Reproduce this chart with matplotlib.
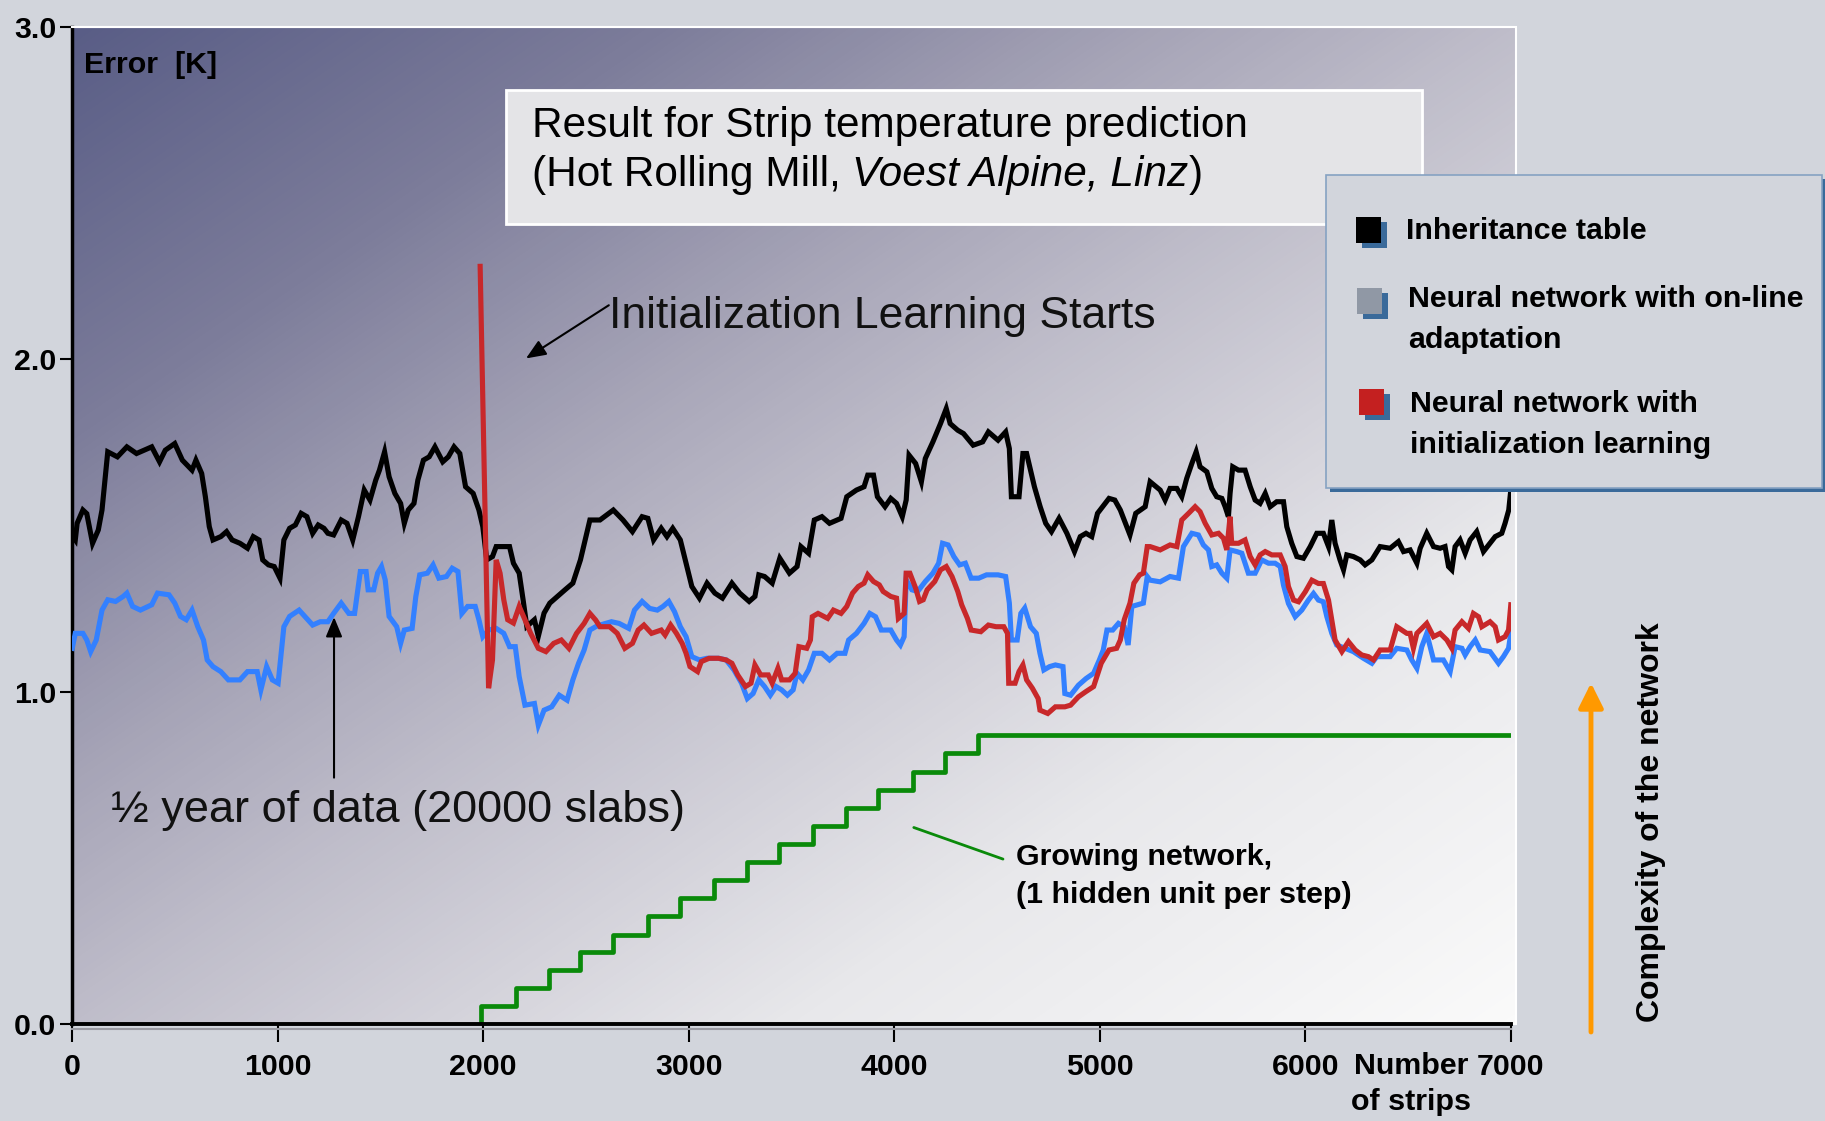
import numpy as np
import matplotlib
matplotlib.use("Agg")
import matplotlib.pyplot as plt
from matplotlib import font_manager
from matplotlib.colors import LinearSegmentedColormap
from matplotlib.patches import Rectangle
from matplotlib.lines import Line2D

# ---- data: (number of strips, error [K]) ----
inheritance = [
    (0, 1.47), (15, 1.457), (24, 1.507), (52, 1.547), (71, 1.536), (99, 1.447), (127, 1.487),
    (145, 1.547), (173, 1.722), (220, 1.707), (266, 1.737), (313, 1.717), (387, 1.737),
    (425, 1.692), (453, 1.727), (499, 1.747), (536, 1.697), (583, 1.667), (602, 1.697),
    (630, 1.657), (648, 1.587), (667, 1.497), (685, 1.457), (723, 1.467), (751, 1.482),
    (778, 1.457), (816, 1.447), (853, 1.432), (881, 1.467), (909, 1.457), (927, 1.397),
    (955, 1.382), (983, 1.377), (1011, 1.342), (1030, 1.457), (1058, 1.492), (1086, 1.502),
    (1114, 1.537), (1142, 1.527), (1170, 1.477), (1197, 1.502), (1225, 1.492), (1244, 1.477),
    (1272, 1.472), (1309, 1.517), (1337, 1.507), (1365, 1.457), (1393, 1.527), (1421, 1.607),
    (1449, 1.577), (1477, 1.637), (1495, 1.667), (1520, 1.722), (1542, 1.647), (1570, 1.597),
    (1598, 1.567), (1616, 1.507), (1635, 1.547), (1663, 1.567), (1682, 1.637), (1709, 1.697),
    (1737, 1.707), (1765, 1.737), (1803, 1.692), (1830, 1.707), (1858, 1.737), (1886, 1.717),
    (1914, 1.617), (1951, 1.597), (1979, 1.547), (1998, 1.497), (2017, 1.397), (2045, 1.407),
    (2063, 1.437), (2128, 1.437), (2147, 1.387), (2175, 1.357), (2194, 1.277), (2212, 1.197),
    (2249, 1.217), (2268, 1.167), (2296, 1.237), (2324, 1.267), (2361, 1.287), (2398, 1.307),
    (2436, 1.327), (2473, 1.397), (2519, 1.517),
    (2568, 1.517), (2633, 1.547), (2680, 1.517), (2726, 1.482), (2773, 1.527), (2801, 1.522),
    (2829, 1.457), (2866, 1.492), (2894, 1.467), (2922, 1.492), (2959, 1.457), (2987, 1.387),
    (3015, 1.317), (3052, 1.282), (3089, 1.327), (3127, 1.297), (3164, 1.282), (3210, 1.327),
    (3248, 1.297), (3294, 1.272), (3322, 1.287), (3341, 1.352), (3369, 1.347), (3406, 1.327),
    (3443, 1.402), (3490, 1.357), (3527, 1.377), (3546, 1.437), (3583, 1.417), (3611, 1.517),
    (3648, 1.527), (3685, 1.507), (3741, 1.522), (3769, 1.587), (3816, 1.607), (3853, 1.617),
    (3871, 1.652), (3899, 1.652), (3918, 1.587), (3955, 1.557), (3983, 1.582), (4011, 1.567),
    (4039, 1.527), (4058, 1.577), (4072, 1.712), (4104, 1.687), (4132, 1.632), (4151, 1.702),
    (4188, 1.752), (4225, 1.807), (4253, 1.852), (4272, 1.807), (4309, 1.787), (4337, 1.777),
    (4384, 1.742), (4430, 1.752), (4458, 1.782), (4505, 1.757), (4542, 1.782), (4560, 1.732),
    (4570, 1.587), (4607, 1.587), (4626, 1.717), (4644, 1.717), (4682, 1.617), (4710, 1.557),
    (4737, 1.507), (4765, 1.482), (4802, 1.522), (4840, 1.477), (4877, 1.422), (4905, 1.467),
    (4933, 1.477), (4961, 1.467), (4989, 1.537), (5045, 1.582), (5073, 1.577), (5100, 1.547),
    (5147, 1.472), (5175, 1.537), (5221, 1.557),
    (5245, 1.632), (5294, 1.607), (5318, 1.577), (5342, 1.612), (5375, 1.612), (5399, 1.587),
    (5423, 1.642), (5448, 1.687), (5469, 1.722), (5488, 1.677), (5521, 1.662), (5545, 1.612),
    (5569, 1.587), (5594, 1.582), (5610, 1.557), (5626, 1.527), (5634, 1.597), (5647, 1.677),
    (5675, 1.667), (5707, 1.667), (5732, 1.617), (5756, 1.577), (5780, 1.567), (5805, 1.597),
    (5829, 1.557), (5861, 1.572), (5894, 1.572), (5910, 1.497), (5934, 1.447), (5959, 1.407),
    (5991, 1.402), (6024, 1.437), (6056, 1.477), (6088, 1.477), (6113, 1.437), (6129, 1.517),
    (6145, 1.447), (6169, 1.397), (6186, 1.367), (6202, 1.412), (6234, 1.407), (6267, 1.397),
    (6291, 1.382), (6324, 1.397), (6364, 1.437), (6413, 1.432), (6453, 1.452), (6478, 1.422),
    (6510, 1.427), (6543, 1.387), (6559, 1.432), (6591, 1.477), (6624, 1.437), (6656, 1.432),
    (6680, 1.437), (6697, 1.377), (6713, 1.367), (6729, 1.437), (6753, 1.457), (6778, 1.417),
    (6802, 1.457), (6834, 1.482), (6867, 1.422), (6899, 1.447), (6924, 1.467), (6956, 1.477),
    (6972, 1.507), (6990, 1.547), (7000, 1.607),
]

online = [
    (0, 1.131), (15, 1.176), (52, 1.176), (71, 1.156), (90, 1.121), (117, 1.156), (145, 1.246),
    (173, 1.277), (211, 1.272), (248, 1.287), (266, 1.297), (294, 1.257), (332, 1.246),
    (387, 1.262), (415, 1.297), (471, 1.292), (499, 1.267), (527, 1.227), (555, 1.217),
    (583, 1.246), (611, 1.196), (639, 1.156), (657, 1.096), (685, 1.076), (723, 1.061),
    (760, 1.036), (816, 1.036), (853, 1.061), (900, 1.061), (918, 1.006), (946, 1.076),
    (974, 1.036), (1002, 1.026), (1030, 1.196), (1058, 1.227), (1104, 1.246), (1132, 1.227),
    (1170, 1.201), (1207, 1.211), (1244, 1.211), (1272, 1.236), (1309, 1.267), (1346, 1.236),
    (1374, 1.236), (1402, 1.362), (1430, 1.362), (1440, 1.307), (1467, 1.307), (1486, 1.357),
    (1505, 1.377), (1523, 1.337), (1542, 1.227), (1579, 1.196), (1598, 1.146), (1616, 1.186),
    (1654, 1.191), (1672, 1.287), (1691, 1.352), (1728, 1.357), (1756, 1.382), (1784, 1.342),
    (1821, 1.347), (1849, 1.372), (1877, 1.362), (1896, 1.236), (1924, 1.257), (1961, 1.257),
    (1979, 1.217), (1998, 1.166), (2026, 1.186), (2063, 1.191), (2100, 1.176), (2128, 1.136),
    (2156, 1.136), (2175, 1.046), (2203, 0.960), (2249, 0.965), (2268, 0.900), (2296, 0.945),
    (2333, 0.955), (2370, 0.990), (2408, 0.975), (2436, 1.036), (2464, 1.086), (2491, 1.126),
    (2519, 1.186), (2547, 1.196),
    (2568, 1.201), (2624, 1.211), (2661, 1.206), (2708, 1.191), (2736, 1.246), (2773, 1.272),
    (2810, 1.251), (2847, 1.246), (2875, 1.257), (2903, 1.272), (2931, 1.241), (2959, 1.196),
    (2987, 1.166), (3015, 1.106), (3052, 1.096), (3089, 1.101), (3145, 1.101), (3182, 1.096),
    (3220, 1.066), (3257, 1.026), (3285, 0.980), (3313, 0.995), (3341, 1.036), (3369, 1.016),
    (3397, 0.990), (3425, 1.016), (3452, 1.006), (3480, 0.990), (3508, 1.006), (3527, 1.056),
    (3555, 1.036), (3583, 1.066), (3611, 1.116), (3648, 1.116), (3685, 1.096), (3722, 1.116),
    (3760, 1.116), (3778, 1.156), (3816, 1.176), (3853, 1.206), (3881, 1.236), (3909, 1.226),
    (3937, 1.186), (3983, 1.186), (4011, 1.156), (4030, 1.141), (4048, 1.166), (4058, 1.337),
    (4086, 1.307), (4114, 1.302), (4151, 1.332), (4188, 1.357), (4216, 1.387), (4235, 1.447),
    (4262, 1.442), (4290, 1.407), (4318, 1.382), (4346, 1.387), (4374, 1.342), (4411, 1.342),
    (4449, 1.352), (4505, 1.352), (4542, 1.347), (4560, 1.267), (4570, 1.156), (4598, 1.156),
    (4616, 1.236), (4635, 1.252), (4663, 1.196), (4691, 1.176), (4709, 1.116), (4728, 1.066),
    (4756, 1.076), (4784, 1.081), (4821, 1.076), (4830, 0.995), (4858, 0.990), (4896, 1.020),
    (4933, 1.040), (4970, 1.056), (4998, 1.096), (5017, 1.126), (5035, 1.186), (5063, 1.186),
    (5091, 1.206), (5119, 1.196), (5138, 1.141), (5156, 1.257), (5184, 1.262), (5212, 1.267),
    (5231, 1.347),
    (5245, 1.336), (5294, 1.331), (5342, 1.347), (5383, 1.342), (5407, 1.437), (5448, 1.477),
    (5480, 1.472), (5504, 1.442), (5529, 1.427), (5545, 1.377), (5569, 1.382), (5594, 1.357),
    (5618, 1.342), (5634, 1.427), (5667, 1.422), (5691, 1.417), (5723, 1.357), (5756, 1.357),
    (5788, 1.397), (5821, 1.387), (5853, 1.387), (5878, 1.377), (5894, 1.321), (5918, 1.266),
    (5951, 1.226), (5983, 1.246), (6015, 1.276), (6040, 1.296), (6064, 1.276), (6088, 1.271),
    (6105, 1.226), (6129, 1.176), (6153, 1.141), (6194, 1.131), (6234, 1.121), (6283, 1.101),
    (6324, 1.086), (6348, 1.106), (6413, 1.106), (6445, 1.131), (6494, 1.126), (6518, 1.096),
    (6543, 1.071), (6567, 1.136), (6591, 1.176), (6624, 1.096), (6672, 1.096), (6705, 1.061),
    (6729, 1.136), (6762, 1.131), (6778, 1.111), (6802, 1.136), (6827, 1.156), (6851, 1.126),
    (6899, 1.121), (6940, 1.086), (6964, 1.106), (6989, 1.131), (7000, 1.176),
]

init_learning = [
    (1985, 2.28), (2026, 1.011), (2045, 1.096), (2063, 1.397), (2082, 1.357), (2100, 1.277),
    (2119, 1.217), (2147, 1.207), (2175, 1.257), (2203, 1.217), (2231, 1.176), (2268, 1.131),
    (2305, 1.121), (2343, 1.146), (2380, 1.156), (2417, 1.131), (2454, 1.176), (2491, 1.206),
    (2519, 1.236), (2547, 1.216),
    (2568, 1.196), (2615, 1.196), (2652, 1.176), (2689, 1.131), (2726, 1.146), (2754, 1.186),
    (2782, 1.201), (2819, 1.176), (2866, 1.186), (2885, 1.171), (2912, 1.201), (2940, 1.176),
    (2968, 1.146), (2987, 1.116), (3006, 1.076), (3043, 1.061), (3061, 1.091), (3099, 1.101),
    (3145, 1.101), (3182, 1.096), (3210, 1.086), (3238, 1.051), (3276, 1.016), (3303, 1.026),
    (3322, 1.081), (3350, 1.051), (3387, 1.051), (3406, 1.026), (3434, 1.071), (3452, 1.036),
    (3490, 1.036), (3518, 1.056), (3536, 1.136), (3574, 1.131), (3592, 1.156), (3601, 1.226),
    (3629, 1.236), (3676, 1.221), (3704, 1.246), (3741, 1.236), (3769, 1.257), (3797, 1.297),
    (3825, 1.317), (3853, 1.327), (3871, 1.352), (3899, 1.332), (3927, 1.322), (3946, 1.302),
    (3983, 1.287), (4011, 1.282), (4020, 1.221), (4048, 1.236), (4058, 1.357), (4076, 1.357),
    (4104, 1.312), (4123, 1.272), (4141, 1.277), (4160, 1.307), (4197, 1.332), (4225, 1.367),
    (4253, 1.377), (4281, 1.347), (4309, 1.302), (4328, 1.262), (4356, 1.221), (4374, 1.186),
    (4421, 1.181), (4458, 1.201), (4495, 1.196), (4533, 1.196), (4551, 1.176), (4557, 1.026),
    (4588, 1.026), (4607, 1.061), (4626, 1.081), (4644, 1.036), (4672, 1.011), (4700, 0.980),
    (4709, 0.945), (4747, 0.935), (4784, 0.955), (4830, 0.955), (4858, 0.960), (4896, 0.985),
    (4933, 1.001), (4970, 1.016), (5007, 1.086), (5045, 1.126), (5082, 1.131), (5100, 1.156),
    (5119, 1.217), (5147, 1.267), (5166, 1.327), (5194, 1.352), (5212, 1.357), (5231, 1.437),
    (5245, 1.437), (5294, 1.427), (5342, 1.442), (5375, 1.437), (5399, 1.517), (5432, 1.537),
    (5464, 1.557), (5488, 1.542), (5513, 1.507), (5545, 1.472), (5578, 1.477), (5602, 1.462),
    (5618, 1.427), (5634, 1.527), (5642, 1.447), (5675, 1.447), (5707, 1.457), (5732, 1.407),
    (5756, 1.382), (5780, 1.412), (5805, 1.422), (5837, 1.412), (5878, 1.412), (5902, 1.377),
    (5918, 1.317), (5943, 1.276), (5967, 1.271), (6000, 1.301), (6032, 1.336), (6064, 1.326),
    (6088, 1.326), (6113, 1.276), (6129, 1.216), (6145, 1.156), (6178, 1.121), (6210, 1.151),
    (6243, 1.126), (6275, 1.111), (6307, 1.106), (6332, 1.096), (6364, 1.126), (6413, 1.126),
    (6445, 1.196), (6494, 1.176), (6510, 1.176), (6526, 1.131), (6543, 1.176), (6591, 1.206),
    (6624, 1.166), (6656, 1.176), (6689, 1.156), (6713, 1.131), (6729, 1.186), (6762, 1.211),
    (6794, 1.191), (6818, 1.236), (6843, 1.226), (6859, 1.196), (6899, 1.211), (6924, 1.196),
    (6940, 1.156), (6972, 1.166), (6989, 1.186), (7000, 1.262),
]

# growing network: strip count where a hidden unit is added, and the level drawn
unit_added_at = [1990, 2158, 2320, 2471, 2630, 2800, 2959, 3123, 3282, 3440, 3605, 3764,
                 3922, 4092, 4245, 4406]
unit_level = [0.055, 0.108, 0.162, 0.216, 0.27, 0.325, 0.38, 0.434, 0.488, 0.543, 0.597,
              0.651, 0.706, 0.76, 0.815, 0.869]

x_ticks = [0, 1000, 2000, 3000, 4000, 5000, 6000, 7000]
y_ticks = [0.0, 1.0, 2.0, 3.0]

legend_labels = ["Inheritance table", "Neural network with on-line\nadaptation",
                 "Neural network with\ninitialization learning"]
legend_colors = ["#000000", "#9098a5", "#c42020"]

# ---- fonts ----
names = {f.name for f in font_manager.fontManager.ttflist}
if "Liberation Sans Narrow" in names:
    NARROW, ns = "Liberation Sans Narrow", 1.0
else:
    NARROW, ns = "Liberation Sans", 0.84
SANS = "Liberation Sans"

W, H = 1825, 1121
BG = "#d2d5dc"
fig = plt.figure(figsize=(W / 100, H / 100), dpi=100, facecolor=BG)


def fxp(px):
    return px / W


def fyp(py):
    return 1 - py / H


def frect(px, py, w, h, **kw):
    return Rectangle((fxp(px), fyp(py + h)), w / W, h / H, transform=fig.transFigure, **kw)


ax = fig.add_axes([fxp(72.2), fyp(1024.3), (1510.8 - 72.2) / W, (1024.3 - 27) / H])
ax.set_xlim(0, 7000)
ax.set_ylim(0, 3.0)
ax.set_facecolor("none")

# diagonal background gradient
cmap = LinearSegmentedColormap.from_list(
    "bg", [(0, "#595d86"), (0.2, "#7c7c9a"), (0.37, "#a5a3b6"), (0.5, "#bfbdca"),
           (0.75, "#e8e8eb"), (1.0, "#fafafa")])
uu, vv = np.meshgrid(np.linspace(0, 1, 400), np.linspace(0, 1, 300))
im = ax.imshow(0.5 * uu + 0.5 * vv, cmap=cmap, vmin=0, vmax=1, extent=[0, 7025, 0, 3.0],
               aspect="auto", origin="upper", zorder=0, interpolation="bilinear")
im.set_clip_on(False)
ax.add_patch(Rectangle((0, 0), 7025, 3.0, fill=False, ec="white", lw=1.5, clip_on=False,
                       zorder=0.5))

# growing network staircase
gx = [unit_added_at[0]] + unit_added_at + [7000]
gy = [0.0] + unit_level + [unit_level[-1]]
ax.step(gx, gy, where="post", color="#0a8a0a", lw=3.4, zorder=2)

for series, col, z in [(online, "#3380ff", 3), (inheritance, "black", 4),
                       (init_learning, "#c8282a", 5)]:
    xs, ys = zip(*series)
    ax.plot(xs, ys, color=col, lw=3.7, zorder=z, solid_joinstyle="miter")

# axes styling
ax.spines["right"].set_visible(False)
ax.spines["top"].set_color("white")
ax.spines["top"].set_linewidth(1.5)
ax.spines["left"].set_linewidth(2.5)
ax.spines["bottom"].set_linewidth(2.8)
ax.set_xticks(x_ticks)
ax.set_xticklabels([str(t) for t in x_ticks])
ax.set_yticks(y_ticks)
ax.set_yticklabels([f"{t:.1f}" for t in y_ticks])
ax.tick_params(axis="x", direction="out", length=13, width=1.5, pad=8)
ax.tick_params(axis="y", direction="out", length=8.5, width=1.5, pad=3)
for lab in ax.get_xticklabels() + ax.get_yticklabels():
    lab.set_fontfamily(NARROW)
    lab.set_fontweight("bold")
    lab.set_fontsize(26 * ns)
fig.add_artist(Line2D([fxp(72), fxp(1511)], [fyp(1028.5), fyp(1028.5)],
                      transform=fig.transFigure, color="#9a9aa2", lw=1.5, zorder=0.5))

# texts inside the plot
ax.text(57, 2.885, "Error  [K]", fontfamily=NARROW, fontweight="bold", fontsize=26 * ns,
        va="center", ha="left", zorder=6)
ax.text(2611, 2.129, "Initialization Learning Starts", fontfamily=SANS, fontsize=32,
        va="center", ha="left", color="#111111", zorder=6)
ax.annotate("", xy=(2208, 2.003), xytext=(2611, 2.163),
            arrowprops=dict(arrowstyle="-|>,head_length=0.6,head_width=0.25", color="black",
                            lw=1.5, shrinkA=0, shrinkB=0, mutation_scale=20), zorder=6)
ax.text(187, 0.642, "½ year of data (20000 slabs)", fontfamily=SANS, fontsize=32.5,
        va="center", ha="left", color="#111111", zorder=6)
ax.annotate("", xy=(1274, 1.225), xytext=(1274, 0.742),
            arrowprops=dict(arrowstyle="-|>,head_length=0.6,head_width=0.25", color="black",
                            lw=1.5, shrinkA=0, shrinkB=0, mutation_scale=20), zorder=6)
ax.annotate("", xy=(4095, 0.592), xytext=(4529, 0.497),
            arrowprops=dict(arrowstyle="-", color="#0a8a0a", lw=2, shrinkA=0, shrinkB=0))
ax.text(4593, 0.447, "Growing network,\n(1 hidden unit per step)", fontfamily=NARROW,
        fontweight="bold", fontsize=26 * ns, va="center", ha="left", linespacing=1.45,
        zorder=6)

# title box
fig.add_artist(frect(506, 89.6, 916, 134, fc="#e4e4e7", ec="white", lw=2, zorder=2))
fig.text(fxp(532), fyp(137), "Result for Strip temperature prediction", fontfamily=SANS,
         fontsize=30.5, va="baseline", ha="left", zorder=3)
renderer = fig.canvas.get_renderer()
xpos = 532
for part, style in [("(Hot Rolling Mill, ", "normal"), ("Voest Alpine, Linz", "italic"),
                    (")", "normal")]:
    t = fig.text(fxp(xpos), fyp(186), part, fontfamily=SANS, fontsize=30.5, style=style,
                 va="baseline", ha="left", zorder=3)
    xpos = t.get_window_extent(renderer).x1

# legend box
fig.add_artist(frect(1330, 179, 500, 313, fc="#3a6a9a", ec="none", zorder=5))
fig.add_artist(frect(1326, 175, 496, 313, fc=BG, ec="#86a2c2", lw=1.2, zorder=5.1))
marker_pos = [(1356, 217), (1357, 288), (1359, 389)]
text_pos = [(1406, 230.7), (1408, 319.7), (1410, 424.5)]
for (mx, my), (tx, ty), col, lab in zip(marker_pos, text_pos, legend_colors, legend_labels):
    fig.add_artist(frect(mx + 6, my + 5, 25, 26, fc="#3a6a9a", ec="none", zorder=5.2))
    fig.add_artist(frect(mx, my, 25, 26, fc=col, ec="none", zorder=5.3))
    fig.text(fxp(tx), fyp(ty), lab, fontfamily=NARROW, fontweight="bold", fontsize=26 * ns,
             va="center", ha="left", linespacing=1.6, zorder=6)

# complexity arrow on the right
fig.add_artist(matplotlib.patches.FancyArrowPatch(
    (fxp(1591), fyp(1032)), (fxp(1591), fyp(683)), transform=fig.transFigure,
    arrowstyle="-|>,head_length=0.6,head_width=0.3", mutation_scale=25, color="#ff9900",
    lw=3.5, shrinkA=0, shrinkB=0, zorder=4))
fig.text(fxp(1650.5), fyp(821.7), "Complexity of the network", fontfamily=SANS,
         fontweight="bold", fontsize=23, rotation=90, va="center", ha="center", zorder=4)

fig.text(fxp(1411), fyp(1084), "Number\nof strips", fontfamily=NARROW, fontweight="bold",
         fontsize=26 * ns, va="center", ha="center", linespacing=1.4, zorder=4)

fig.savefig("out.png", dpi=100, facecolor=BG)
